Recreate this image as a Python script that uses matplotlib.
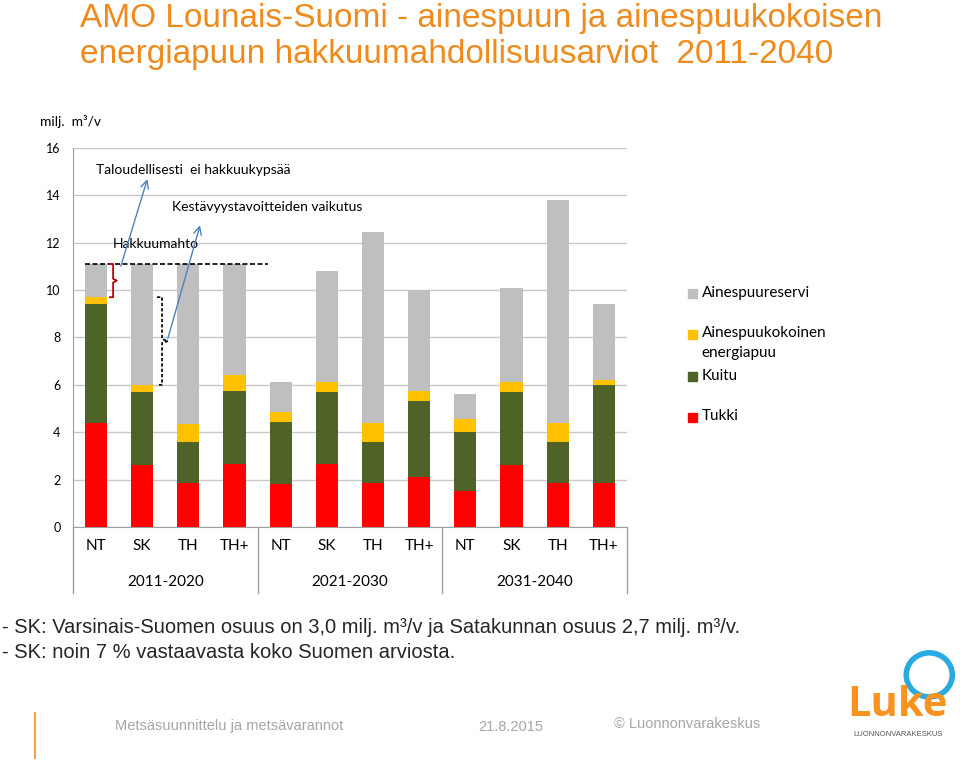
import matplotlib.pyplot as plt
from matplotlib.patches import Ellipse, Rectangle
import numpy as np

# data (milj. m3/v)
skenaariot = ["NT", "SK", "TH", "TH+"] * 3
kaudet = ["2011-2020", "2021-2030", "2031-2040"]
tukki = [4.4, 2.6, 1.85, 2.65, 1.8, 2.65, 1.85, 2.1, 1.5, 2.6, 1.85, 1.85]
kuitu = [5.0, 3.1, 1.75, 3.1, 2.65, 3.05, 1.75, 3.2, 2.5, 3.1, 1.75, 4.15]
energiapuu = [0.3, 0.3, 0.75, 0.65, 0.4, 0.4, 0.8, 0.45, 0.55, 0.4, 0.8, 0.2]
reservi = [1.4, 5.1, 6.75, 4.7, 1.25, 4.7, 8.05, 4.25, 1.05, 4.0, 9.4, 3.2]

sarjat = [("Tukki", tukki, "#FF0000"),
          ("Kuitu", kuitu, "#4F6228"),
          ("Ainespuukokoinen\nenergiapuu", energiapuu, "#FFC000"),
          ("Ainespuureservi", reservi, "#BFBFBF")]

oranssi = "#F08A1C"
chart_font = ["Lato", "DejaVu Sans"]

fig = plt.figure(figsize=(9.6, 7.6), dpi=100)
ax = fig.add_axes([0.076, 0.3066, 0.577, 0.4987])

x = np.arange(len(skenaariot))
pohja = np.zeros(len(x))
for nimi, arvot, vari in sarjat:
    ax.bar(x, arvot, 0.48, bottom=pohja, color=vari, label=nimi, zorder=3)
    pohja = pohja + np.array(arvot)

ax.set_xlim(-0.5, 11.5)
ax.set_ylim(0, 16)
ax.set_yticks(np.arange(0, 17, 2))
ax.yaxis.grid(True, color="#C8C8C8", linewidth=1, zorder=0)
ax.tick_params(axis="y", length=0, labelsize=9, pad=9)
ax.set_xticks(x)
ax.set_xticklabels(skenaariot, fontsize=11, family=chart_font)
ax.tick_params(axis="x", length=0, pad=9)
for lab in ax.get_yticklabels():
    lab.set_family(chart_font)
for s in ["top", "right"]:
    ax.spines[s].set_visible(False)
ax.spines["left"].set_color("#A0A0A0")
ax.spines["bottom"].set_color("#A0A0A0")

# period boxes below the axis
for xs in [-0.5, 3.5, 7.5, 11.5]:
    ax.plot([xs, xs], [0, -0.174], transform=ax.get_xaxis_transform(),
            color="#A0A0A0", linewidth=1, clip_on=False)
for i, k in enumerate(kaudet):
    ax.text(4 * i + 1.5, -0.145, k, transform=ax.get_xaxis_transform(),
            ha="center", va="center", fontsize=11, family=chart_font)

# annotations
hakkuumahto = pohja[0]
yla1 = tukki[0] + kuitu[0] + energiapuu[0]
yla2 = tukki[1] + kuitu[1] + energiapuu[1]
ax.plot([-0.24, 3.72], [hakkuumahto, hakkuumahto], color="black",
        linestyle=(0, (3, 1.5)), linewidth=1.2, zorder=4, clip_on=False)
ym = (hakkuumahto + yla1) / 2
ax.plot([0.30, 0.37, 0.37, 0.45, 0.37, 0.37, 0.30],
        [hakkuumahto, hakkuumahto, ym + 0.08, ym, ym - 0.08, yla1, yla1],
        color="#C00000", linewidth=1.3, zorder=4)
ym2 = (yla1 + yla2) / 2
ax.plot([1.32, 1.43, 1.43, 1.56, 1.43, 1.43, 1.32],
        [yla1, yla1, ym2 + 0.08, ym2, ym2 - 0.08, yla2, yla2],
        color="black", linestyle=(0, (2, 1.2)), linewidth=1.2, zorder=4)
nuoli = dict(arrowstyle="->", color="#4F81BD", linewidth=1, mutation_scale=14)
ax.annotate("", xy=(1.13, 14.8), xytext=(0.52, 10.9), arrowprops=nuoli, zorder=5)
ax.annotate("", xy=(2.27, 12.85), xytext=(1.54, 7.85), arrowprops=nuoli, zorder=5)
ax.text(0.0, 15.07, "Taloudellisesti  ei hakkuukypsää", fontsize=10,
        family=chart_font, va="center")
ax.text(1.65, 13.5, "Kestävyystavoitteiden vaikutus", fontsize=10,
        family=chart_font, va="center")
ax.text(0.37, 11.95, "Hakkuumahto", fontsize=10, family=chart_font, va="center")
ax.text(-0.06, 1.069, "milj.  m³/v", transform=ax.transAxes, fontsize=10,
        family=chart_font, ha="left", va="center")

# legend drawn by hand to keep the original's uneven spacing
selite = [("Ainespuureservi", "#BFBFBF", 0.615),
          ("Ainespuukokoinen\nenergiapuu", "#FFC000", 0.507),
          ("Kuitu", "#4F6228", 0.396),
          ("Tukki", "#FF0000", 0.288)]
for teksti, vari, yy in selite:
    ax.add_patch(Rectangle((1.110, yy - 0.012), 0.017, 0.024, color=vari,
                           transform=ax.transAxes, clip_on=False))
    ax.text(1.135, yy + 0.022, teksti, transform=ax.transAxes, fontsize=11,
            family=chart_font, va="top", ha="left", linespacing=1.5)

# title and notes
fig.text(0.083, 0.9645, "AMO Lounais-Suomi - ainespuun ja ainespuukokoisen",
         fontsize=24, color=oranssi, family="Liberation Sans", va="baseline", ha="left")
fig.text(0.083, 0.917, "energiapuun hakkuumahdollisuusarviot  2011-2040",
         fontsize=24, color=oranssi, family="Liberation Sans", va="baseline", ha="left")
fig.text(0.002, 0.174, "- SK: Varsinais-Suomen osuus on 3,0 milj. m³/v ja Satakunnan osuus 2,7 milj. m³/v.",
         fontsize=14.5, family="Liberation Sans", color="#262626", va="center")
fig.text(0.002, 0.141, "- SK: noin 7 % vastaavasta koko Suomen arviosta.",
         fontsize=14.5, family="Liberation Sans", color="#262626", va="center")

# footer
fig.add_artist(plt.Line2D([0.036, 0.036], [0.003, 0.062], color="#F5A04A", linewidth=1.5))
harmaa = "#A6A6A6"
fig.text(0.12, 0.045, "Metsäsuunnittelu ja metsävarannot", fontsize=10.5, color=harmaa,
         family="Liberation Sans", va="center")
fig.text(0.498, 0.043, "21.8.2015", fontsize=10.5, color=harmaa, family="Liberation Sans", va="center")
fig.text(0.64, 0.047, "© Luonnonvarakeskus", fontsize=10.5, color=harmaa,
         family="Liberation Sans", va="center")
fig.text(0.935, 0.072, "Luke", fontsize=30, color="#F7931E", family="Open Sans",
         weight="bold", ha="center", va="center")
fig.text(0.935, 0.033, "LUONNONVARAKESKUS", fontsize=5.5, color="#555555",
         family="Liberation Sans", ha="center", va="center")
fig.add_artist(Ellipse((0.968, 0.112), 0.048, 0.058, facecolor="none",
                       edgecolor="#29ABE2", linewidth=4, transform=fig.transFigure))

fig.savefig("out.png", dpi=100)
